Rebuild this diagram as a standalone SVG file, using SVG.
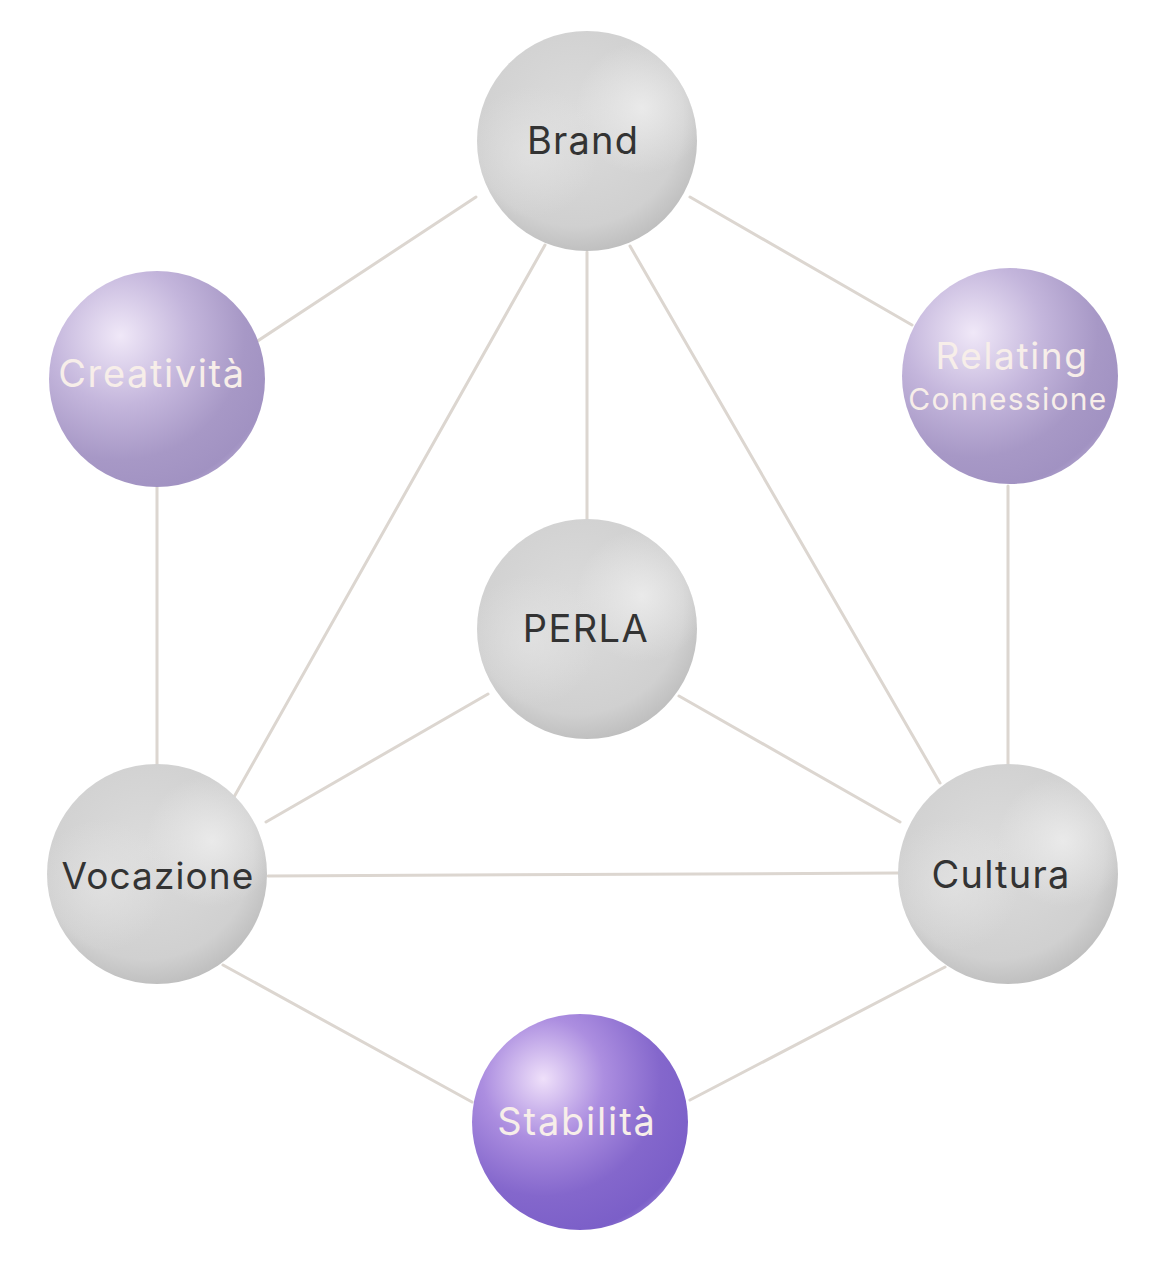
<svg xmlns="http://www.w3.org/2000/svg" width="1157" height="1266" viewBox="0 0 1157 1266">
<defs>
<radialGradient id="gBase" cx="0.45" cy="0.4" r="0.65">
<stop offset="0" stop-color="#dcdcdc"/>
<stop offset="0.75" stop-color="#d0d0d0"/>
<stop offset="1" stop-color="#b9b9b9"/>
</radialGradient>
<radialGradient id="gHi" cx="0.75" cy="0.35" r="0.3">
<stop offset="0" stop-color="#ececec" stop-opacity="0.9"/>
<stop offset="1" stop-color="#ececec" stop-opacity="0"/>
</radialGradient>
<radialGradient id="gHi2" cx="0.25" cy="0.55" r="0.3">
<stop offset="0" stop-color="#e4e4e4" stop-opacity="0.7"/>
<stop offset="1" stop-color="#e4e4e4" stop-opacity="0"/>
</radialGradient>
<radialGradient id="pLight" cx="0.33" cy="0.3" r="0.8">
<stop offset="0" stop-color="#f0e8f8"/>
<stop offset="0.4" stop-color="#c4b6dc"/>
<stop offset="0.72" stop-color="#a798c6"/>
<stop offset="0.92" stop-color="#a192c2"/>
<stop offset="1" stop-color="#b4a6d0"/>
</radialGradient>
<radialGradient id="pDeep" cx="0.33" cy="0.3" r="0.8">
<stop offset="0" stop-color="#efe0fa"/>
<stop offset="0.35" stop-color="#ac8ee0"/>
<stop offset="0.68" stop-color="#8467cc"/>
<stop offset="0.92" stop-color="#7b5fc8"/>
<stop offset="1" stop-color="#9a82d6"/>
</radialGradient>
</defs>
<style>
.edge{stroke:#dcd6d0;stroke-width:3;fill:none;stroke-linecap:round}
.lbl{font-family:Inter,"Liberation Sans",sans-serif;text-anchor:middle}
.dark{fill:#333333;font-size:38px;letter-spacing:1.2px}
.light{fill:#f7eee9;letter-spacing:1.6px}
</style>
<rect width="1157" height="1266" fill="#ffffff"/>
<g id="connectors">
<line class="edge" x1="476" y1="197" x2="244" y2="350"/>
<line class="edge" x1="690" y1="197" x2="912" y2="325"/>
<line class="edge" x1="587" y1="252" x2="587" y2="519"/>
<line class="edge" x1="545" y1="245" x2="234" y2="797"/>
<line class="edge" x1="630" y1="246" x2="940" y2="783"/>
<line class="edge" x1="157" y1="487" x2="157" y2="764"/>
<line class="edge" x1="1008" y1="486" x2="1008" y2="764"/>
<line class="edge" x1="488" y1="694" x2="266" y2="822"/>
<line class="edge" x1="679" y1="696" x2="900" y2="822"/>
<line class="edge" x1="268" y1="876" x2="898" y2="873"/>
<line class="edge" x1="223" y1="965" x2="472" y2="1102"/>
<line class="edge" x1="945" y1="967" x2="690" y2="1100"/>
</g>
<g id="brand">
<circle cx="587" cy="141" r="110" fill="url(#gBase)"/>
<circle cx="587" cy="141" r="110" fill="url(#gHi)"/>
<circle cx="587" cy="141" r="110" fill="url(#gHi2)"/>
<text class="lbl dark" x="583" y="154">Brand</text>
</g>
<g id="creativita">
<circle cx="157" cy="379" r="108" fill="url(#pLight)"/>
<text class="lbl light" x="152" y="387" font-size="38">Creatività</text>
</g>
<g id="relating">
<circle cx="1010" cy="376" r="108" fill="url(#pLight)"/>
<text class="lbl light" x="1012" y="369" font-size="37">Relating</text>
<text class="lbl light" x="1008" y="410" font-size="30" style="letter-spacing:1.3px">Connessione</text>
</g>
<g id="perla">
<circle cx="587" cy="629" r="110" fill="url(#gBase)"/>
<circle cx="587" cy="629" r="110" fill="url(#gHi)"/>
<circle cx="587" cy="629" r="110" fill="url(#gHi2)"/>
<text class="lbl dark" x="586" y="642" style="letter-spacing:1.4px">PERLA</text>
</g>
<g id="vocazione">
<circle cx="157" cy="874" r="110" fill="url(#gBase)"/>
<circle cx="157" cy="874" r="110" fill="url(#gHi)"/>
<circle cx="157" cy="874" r="110" fill="url(#gHi2)"/>
<text class="lbl dark" x="158" y="889" style="font-size:37px;letter-spacing:1.1px">Vocazione</text>
</g>
<g id="cultura">
<circle cx="1008" cy="874" r="110" fill="url(#gBase)"/>
<circle cx="1008" cy="874" r="110" fill="url(#gHi)"/>
<circle cx="1008" cy="874" r="110" fill="url(#gHi2)"/>
<text class="lbl dark" x="1001" y="888">Cultura</text>
</g>
<g id="stabilita">
<circle cx="580" cy="1122" r="108" fill="url(#pDeep)"/>
<text class="lbl light" x="577" y="1135" font-size="38" style="letter-spacing:1.8px">Stabilità</text>
</g>
</svg>
